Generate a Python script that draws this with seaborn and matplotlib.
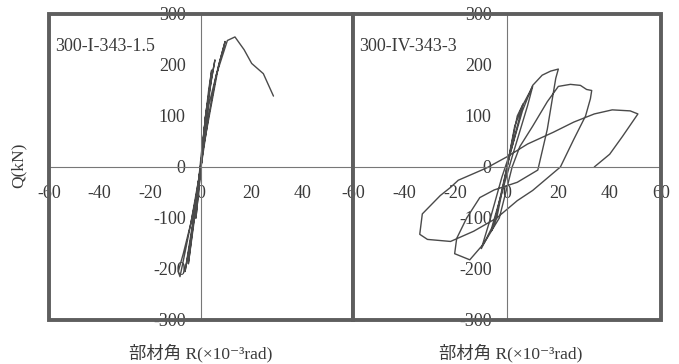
import numpy as np
import pandas as pd
import matplotlib
matplotlib.use("Agg")
import matplotlib.pyplot as plt
from matplotlib.patches import Rectangle
import seaborn as sns

# Specimen 300-I-343-1.5: drift angle R (x10^-3 rad) and shear Q (kN)
r_spec1 = [0, 1, 2, 1, 0, -1, -2, -1, 0, 2, 4.2, 3, 0, -2, -5, -3.5, 0, 2, 5.5, 4, 0.5,
           -2, -6.3, -4, 0, 3, 7, 9.5, 7, 1, -2, -6, -8.3, -9, -7, -4, -1.5, 0, 3,
           6, 10.4, 13.4, 17, 20, 24.6, 28.6]
q_spec1 = [0, 60, 110, 60, 0, -50, -100, -50, 0, 100, 190, 150, 20, -80, -190, -130, 0, 110, 210, 170, 30,
           -70, -205, -140, 0, 120, 200, 246, 200, 40, -60, -160, -215, -205, -170, -110, -40, 0, 100,
           180, 248, 255, 230, 203, 183, 139]

# Specimen 300-IV-343-3
r_spec2 = [0, 2, 4, 6.3, 4, 0, -2, -4, -6, -4, 0, 3, 6, 10, 8, 2, -2, -6, -10, -7, -2,
           2, 6, 10, 13.7, 17, 20, 19, 18, 15.7, 12, 4, -5, -10.6, -15.7, -19.6, -20.4, -14.5,
           -9, -3, 0, 2, 5, 10, 15.7, 20, 24.7, 28.6, 31, 33, 32.5, 30.6, 26, 20.8,
           10, 4, -4, -13, -22, -31, -34, -33, -26, -22, -19, -8, 0, 8, 18, 26, 34,
           41, 48, 51, 45, 40, 34]
q_spec2 = [0, 50, 100, 124, 80, 0, -50, -100, -125, -90, 0, 80, 120, 158, 120, 20, -50, -120, -160, -110, -20,
           40, 110, 160, 180, 188, 192, 174, 144, 74, -6, -30, -45, -60, -100, -140, -170, -182,
           -150, -100, -40, 0, 40, 80, 128, 158, 162, 160, 152, 150, 134, 100, 54, 0,
           -46, -66, -100, -126, -146, -142, -132, -92, -56, -40, -26, -2, 20, 45, 68, 88, 104,
           112, 110, 104, 60, 25, 0]

spec_names = ["300-I-343-1.5", "300-IV-343-3"]
x_ticks = [-60, -40, -20, 0, 20, 40, 60]
y_ticks = [-300, -200, -100, 0, 100, 200, 300]
x_title = "部材角 R(×10⁻³rad)"
y_title = "Q(kN)"

sns.set_theme(style="white")
fonts = ["Liberation Serif", "Noto Sans CJK JP", "DejaVu Serif"]
plt.rcParams["font.family"] = fonts

fig = plt.figure(figsize=(6.79, 3.64), dpi=100)
ax1 = fig.add_axes([0.0722, 0.1209, 0.4477, 0.8407])
ax2 = fig.add_axes([0.5199, 0.1209, 0.4536, 0.8407])

text_col = "#3a3a3a"
panels = [(ax1, r_spec1, q_spec1, spec_names[0]),
          (ax2, r_spec2, q_spec2, spec_names[1])]
for i, (ax, r, q, name) in enumerate(panels):
    df = pd.DataFrame({"R": r, "Q": q})
    sns.lineplot(data=df, x="R", y="Q", sort=False, estimator=None,
                 color="#4a4a4a", lw=1.0, ax=ax)
    ax.set_xlim(-60, 60)
    ax.set_ylim(-300, 300)
    ax.set_xticks(x_ticks)
    ax.set_yticks(y_ticks)
    # the shared border carries only the right panel's "-60"
    xl = [str(v) for v in x_ticks]
    if i == 0:
        xl[-1] = ""
    ax.set_xticklabels(xl)
    ax.set_yticklabels([str(v) for v in y_ticks])
    for s in ["top", "right"]:
        ax.spines[s].set_visible(False)
    for s in ["left", "bottom"]:
        ax.spines[s].set_position(("data", 0))
        ax.spines[s].set_color("#777777")
        ax.spines[s].set_linewidth(0.8)
    ax.tick_params(axis="both", direction="in", length=4, width=0.8, color="#777777",
                   labelsize=13, labelcolor=text_col)
    ax.tick_params(axis="x", pad=13)
    ax.tick_params(axis="y", pad=11)
    ax.set_xlabel("")
    ax.set_ylabel("")
    ax.add_patch(Rectangle((0, 0), 1, 1, transform=ax.transAxes, fill=False,
                           lw=2.8, edgecolor="#5e5e5e", clip_on=False, zorder=5))
    ax.text(0.02, 0.895, name, transform=ax.transAxes, fontsize=13,
            color=text_col, ha="left", va="center")
    ax.set_facecolor("white")

fig.text(0.027, 0.545, y_title, rotation=90, fontsize=12.5, color=text_col,
         ha="center", va="center")
fig.text(0.295, 0.031, x_title, fontsize=12.5, color=text_col,
         ha="center", va="center")
fig.text(0.752, 0.031, x_title, fontsize=12.5, color=text_col,
         ha="center", va="center")

fig.savefig("out.png", dpi=100, facecolor="white")
